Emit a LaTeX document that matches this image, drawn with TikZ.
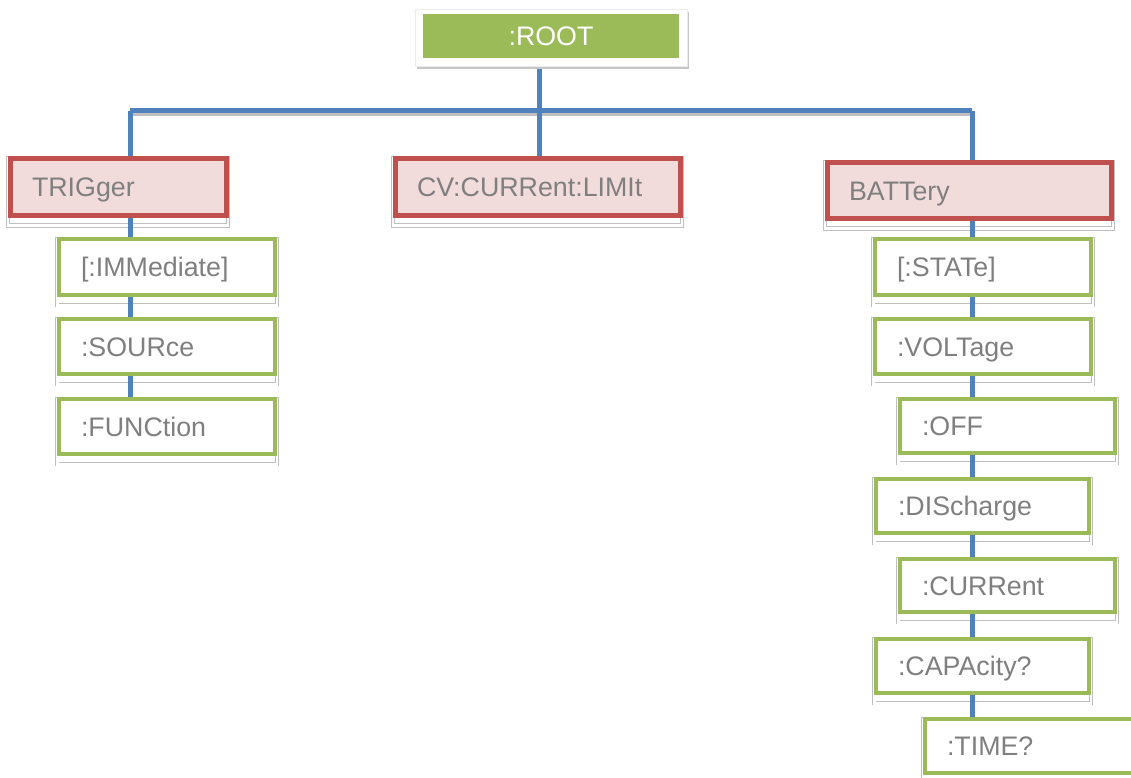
\documentclass[tikz,border=0pt]{standalone}
\usepackage{fontspec}
\setmainfont{Liberation Sans}
\usetikzlibrary{calc}
\definecolor{leafgreen}{HTML}{9BBB59}
\definecolor{groupred}{HTML}{C0504D}
\definecolor{grouppink}{HTML}{F2DCDB}
\definecolor{linkblue}{HTML}{4F81BD}
\definecolor{labelgray}{HTML}{7F7F7F}
\pgfdeclarelayer{back}
\pgfdeclarelayer{lines}
\pgfsetlayers{back,lines,main}
\tikzset{
  cmdtext/.style={font=\fontsize{26.8}{30}\selectfont, text=labelgray, align=left,
    inner xsep=22pt, inner ysep=0pt, text height=19.2pt, text depth=0pt},
  groupbox/.style={cmdtext, draw=groupred, fill=grouppink, line width=5pt},
  leafbox/.style={cmdtext, draw=leafgreen, fill=white, line width=4.5pt},
  rootbox/.style={fill=leafgreen, text=white, font=\fontsize{26.8}{30}\selectfont,
    text height=19.2pt, text depth=0pt, minimum width=256pt, minimum height=44pt, inner sep=0pt},
  conn/.style={draw=linkblue, line width=5pt},
  connshade/.style={draw=gray!50, line width=3pt},
  boxshade/.style={draw=gray!50, line width=0.9pt, double=white, double distance=2.5pt},
}
\newcommand\shadebox[1]{%
  \begin{pgfonlayer}{back}
    \draw[boxshade] ([xshift=0.5pt,yshift=-2pt]#1.north west) rectangle ([xshift=-0.5pt,yshift=-8pt]#1.south east);
  \end{pgfonlayer}}
\begin{document}
\begin{tikzpicture}[x=1pt,y=-1pt]
\useasboundingbox (0,0) rectangle (1131,778);
\begin{pgfonlayer}{back}
  \fill[white] (0,0) rectangle (1131,778);
\end{pgfonlayer}

% root with its white frame
\fill[gray!45] (417,12) rectangle (689,69);
\draw[fill=white, draw=gray!15, line width=0.6pt] (415,9) rectangle (687,66);
\node[rootbox] (root) at (551,36) {:ROOT};

% second level
\node[groupbox, minimum width=216pt, minimum height=56pt, text width=172pt] (trig) at (118,187) {TRIGger};
\node[groupbox, minimum width=285pt, minimum height=56pt, text width=241pt] (cv) at (537.5,187) {CV:CURRent:LIMIt};
\node[groupbox, minimum width=284pt, minimum height=55pt, text width=240pt] (batt) at (969,190.5) {BATTery};

% trigger subtree
\node[leafbox, minimum width=216pt, minimum height=56pt, text width=172pt] (imm) at (167,267) {[:IMMediate]};
\node[leafbox, minimum width=216pt, minimum height=55pt, text width=172pt] (src) at (167,346.5) {:SOURce};
\node[leafbox, minimum width=216pt, minimum height=55pt, text width=172pt] (fun) at (167,426.5) {:FUNCtion};

% battery subtree
\node[leafbox, minimum width=216pt, minimum height=56pt, text width=172pt] (state) at (983,267) {[:STATe]};
\node[leafbox, minimum width=216pt, minimum height=55pt, text width=172pt] (volt) at (983,346.5) {:VOLTage};
\node[leafbox, minimum width=215pt, minimum height=54pt, text width=171pt] (off) at (1007.5,426) {:OFF};
\node[leafbox, minimum width=213pt, minimum height=54pt, text width=169pt] (dis) at (982.5,506) {:DIScharge};
\node[leafbox, minimum width=215pt, minimum height=53pt, text width=171pt] (cur) at (1007.5,585.5) {:CURRent};
\node[leafbox, minimum width=213pt, minimum height=54pt, text width=169pt] (cap) at (982.5,666) {:CAPAcity?};
\node[leafbox, minimum width=215pt, minimum height=54pt, text width=171pt] (time) at (1032.5,746) {:TIME?};

% soft frames under the boxes
\foreach \n in {trig,cv,batt,imm,src,fun,state,volt,off,dis,cur,cap,time}{\shadebox{\n}}

% bus junctions
\coordinate (jl) at (130,111);
\coordinate (jc) at (539,111);
\coordinate (jr) at (972,111);

\begin{pgfonlayer}{lines}
  \draw[connshade] ([yshift=-3.5pt]jl) -- ([yshift=-3.5pt,xshift=2pt]jr);
  \draw[conn] (root.south -| jc) -- (jc);
  \draw[conn] (jl) -- (jr);
  \draw[conn] (jl) -- (jl |- trig.north);
  \draw[conn] (jc) -- (jc |- cv.north);
  \draw[conn] (jr) -- (jr |- batt.north);
  \draw[conn] (trig.south -| jl) -- (imm.north -| jl);
  \draw[conn] (imm.south -| jl) -- (src.north -| jl);
  \draw[conn] (src.south -| jl) -- (fun.north -| jl);
  \draw[conn] (batt.south -| jr) -- (state.north -| jr);
  \draw[conn] (state.south -| jr) -- (volt.north -| jr);
  \draw[conn] (volt.south -| jr) -- (off.north -| jr);
  \draw[conn] (off.south -| jr) -- (dis.north -| jr);
  \draw[conn] (dis.south -| jr) -- (cur.north -| jr);
  \draw[conn] (cur.south -| jr) -- (cap.north -| jr);
  \draw[conn] (cap.south -| jr) -- (time.north -| jr);
\end{pgfonlayer}
\end{tikzpicture}
\end{document}
